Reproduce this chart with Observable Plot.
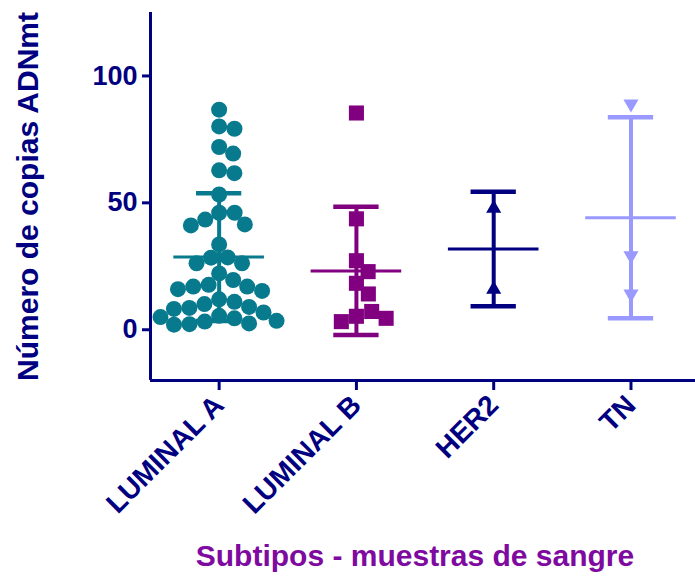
<!DOCTYPE html>
<html>
<head>
<meta charset="utf-8">
<script src="https://cdn.jsdelivr.net/npm/d3@7"></script>
<script src="https://cdn.jsdelivr.net/npm/@observablehq/plot@0.6"></script>
<style>
  body { margin: 0; background: #fff; }
  #chart { width: 695px; height: 580px; }
</style>
</head>
<body>
<div id="chart"></div>
<script>
// ---- data ----
const categories = ["LUMINAL A", "LUMINAL B", "HER2", "TN"];
const luminalA = [86.7, 80.1, 79.2, 72.0, 69.4, 62.8, 61.7, 53.3, 46.1, 46.1, 43.4, 41.5, 41.1,
  33.6, 28.5, 28.4, 26.2, 26.2, 22.2, 19.6, 17.7, 17.0, 17.0, 16.0, 15.3, 12.0, 11.0, 10.1,
  9.0, 8.6, 8.2, 6.8, 5.5, 4.5, 3.2, 2.5, 2.2, 2.0, 3.5, 5.0];
const luminalB = [85.4, 43.7, 27.2, 22.9, 18.3, 14.1, 5.3, 7.2, 3.2, 4.5];
const her2 = [47.8, 15.9];
const tn = [89.0, 29.2, 14.1];
const yTicks = [0, 50, 100];
const xTitle = "Subtipos - muestras de sangre";
const yTitle = "Número de copias ADNmt";

// ---- styling / layout ----
const navy = "#000080";
const colors = ["#087a8d", "#800080", "#000080", "#9999ff"];
const symbols = ["circle", "square", "triangle", "triangle"];
const rotations = [0, 0, 0, 180];
const radii = [8, 8.5, 5.6, 5.6];
const W = 695, H = 580, mL = 150, mR = 0, mT = 12, mB = 200;
const xDomain = [-0.5, 3.47];
const yDomain = [-20, 125];

const groups = [luminalA, luminalB, her2, tn];

// simple beeswarm layout (pixel offsets -> x units)
const yPx = d3.scaleLinear(yDomain, [H - mB, mT]);
const step = (W - mL - mR) / (xDomain[1] - xDomain[0]);
function swarm(values, diam) {
  const placed = [];
  const out = [];
  values.forEach(v => {
    const y = yPx(v);
    const cands = [0];
    for (const p of placed) {
      const dy = Math.abs(p.y - y);
      if (dy < diam) {
        const dx = Math.sqrt(diam * diam - dy * dy);
        cands.push(p.x + dx, p.x - dx);
      }
    }
    const ok = cands.filter(cx => placed.every(p => (p.x - cx) ** 2 + (p.y - y) ** 2 >= diam * diam - 1e-6));
    ok.sort((a, b) => Math.abs(a) - Math.abs(b) || b - a);
    const x = ok[0];
    placed.push({x, y});
    out.push(x);
  });
  return out;
}
const diams = [15.5, 16, 12, 12];
const points = [];
groups.forEach((vals, i) => {
  const off = swarm(vals, diams[i]);
  vals.forEach((v, j) => points.push({i, v, x: i + off[j] / step}));
});
const stats = groups.map((vals, i) => ({i, mean: d3.mean(vals), sd: d3.deviation(vals)}));

const marks = [
  Plot.ruleY([yDomain[0]], {stroke: navy, strokeWidth: 3}),
  Plot.ruleX([xDomain[0]], {stroke: navy, strokeWidth: 3}),
  Plot.axisY({ticks: yTicks, tickSize: 8, tickPadding: 5, strokeWidth: 3, label: null, fontSize: 27}),
  Plot.axisX({ticks: [0, 1, 2, 3], tickFormat: i => categories[i], tickRotate: -45, tickSize: 10, tickPadding: 10, strokeWidth: 3, label: null, fontSize: 28}),
];
groups.forEach((vals, i) => {
  marks.push(Plot.dot(points.filter(p => p.i === i), {
    x: "x", y: "v", r: radii[i], symbol: () => symbols[i], rotate: rotations[i],
    fill: colors[i], stroke: "none"
  }));
});
groups.forEach((vals, i) => {
  const s = stats.filter(d => d.i === i);
  const c = colors[i];
  marks.push(
    Plot.ruleX(s, {x: "i", y1: d => d.mean - d.sd, y2: d => d.mean + d.sd, stroke: c, strokeWidth: 4}),
    Plot.ruleY(s, {y: d => d.mean + d.sd, x1: d => d.i - 0.165, x2: d => d.i + 0.165, stroke: c, strokeWidth: 4.5}),
    Plot.ruleY(s, {y: d => d.mean - d.sd, x1: d => d.i - 0.165, x2: d => d.i + 0.165, stroke: c, strokeWidth: 4.5}),
    Plot.ruleY(s, {y: "mean", x1: d => d.i - 0.33, x2: d => d.i + 0.33, stroke: c, strokeWidth: 3})
  );
});
marks.push(
  Plot.text([yTitle], {text: d => d, frameAnchor: "left", rotate: -90, dx: -122, textAnchor: "middle", lineAnchor: "middle",
    fontSize: 30, fontWeight: "bold", fill: navy}),
  Plot.text([xTitle], {text: d => d, frameAnchor: "bottom", dx: -8, dy: 176, lineAnchor: "middle",
    fontSize: 30, fontWeight: "bold", fill: "#7e0aa0"})
);

const chart = Plot.plot({
  width: W, height: H,
  marginLeft: mL, marginRight: mR, marginTop: mT, marginBottom: mB,
  style: {fontFamily: "'Liberation Sans', Arial, sans-serif", fontSize: "26px", fontWeight: "bold", color: navy, background: "#fff"},
  x: {type: "linear", domain: xDomain},
  y: {domain: yDomain},
  marks
});
document.getElementById("chart").append(chart);
</script>
</body>
</html>
